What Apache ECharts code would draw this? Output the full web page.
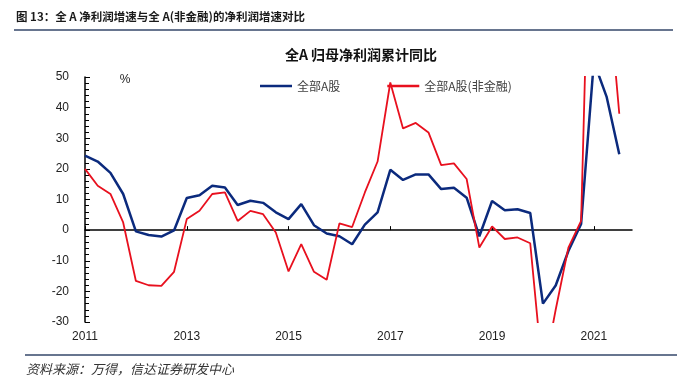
<!DOCTYPE html>
<html>
<head>
<meta charset="utf-8">
<script src="https://cdn.jsdelivr.net/npm/echarts@6/dist/echarts.min.js"></script>
<style>
html,body{margin:0;padding:0;background:#fff;}
#main{width:688px;height:388px;}
</style>
</head>
<body>
<div id="main"></div>
<script>
var categories = [
  "2011Q1","2011Q2","2011Q3","2011Q4","2012Q1","2012Q2","2012Q3","2012Q4",
  "2013Q1","2013Q2","2013Q3","2013Q4","2014Q1","2014Q2","2014Q3","2014Q4",
  "2015Q1","2015Q2","2015Q3","2015Q4","2016Q1","2016Q2","2016Q3","2016Q4",
  "2017Q1","2017Q2","2017Q3","2017Q4","2018Q1","2018Q2","2018Q3","2018Q4",
  "2019Q1","2019Q2","2019Q3","2019Q4","2020Q1","2020Q2","2020Q3","2020Q4",
  "2021Q1","2021Q2","2021Q3","2021Q4"
];
var allA = [
  24.3, 22.4, 18.7, 11.8, -0.4, -1.6, -2.1, -0.1,
  10.5, 11.4, 14.5, 13.9, 8.2, 9.6, 8.9, 5.8,
  3.6, 8.5, 1.6, -1.1, -2.0, -4.6, 1.8, 5.8,
  19.7, 16.4, 18.2, 18.2, 13.4, 13.8, 10.6, -2.0,
  9.5, 6.5, 6.8, 5.6, -24.0, -18.1, -6.8, 2.0,
  55, 43.6, 24.8, null
];
var allANonFin = [
  20.0, 14.5, 11.8, 2.5, -16.6, -18.0, -18.2, -13.6,
  3.6, 6.3, 11.8, 12.3, 3.0, 6.3, 5.2, -0.8,
  -13.5, -4.6, -13.6, -16.2, 2.2, 1.0, 12.3, 22.4,
  48.2, 33.2, 35.0, 31.9, 21.2, 21.8, 16.7, -5.7,
  1.2, -2.9, -2.4, -4.3, -48, -26, -5.7, 3.0,
  160, 85, 38, null
];
var yTicks = { min: -30, max: 50, interval: 10 };
var seriesNames = ["全部A股", "全部A股(非金融)"];

var chart = echarts.init(document.getElementById('main'), null, {renderer: 'canvas'});
var numFont = '"Liberation Sans", Arial, sans-serif';
var cjkFont = '"Noto Sans CJK SC", sans-serif';

chart.setOption({
  animation: false,
  backgroundColor: '#ffffff',
  grid: { left: 85, right: 56, top: 77, bottom: 66, containLabel: false },
  legend: {
    left: 255, top: 75,
    itemWidth: 32, itemHeight: 2.5, itemGap: 47,
    icon: 'rect',
    textStyle: { fontFamily: cjkFont, fontSize: 12, color: '#404040' },
    data: seriesNames
  },
  xAxis: [{
    type: 'category',
    data: categories,
    boundaryGap: false,
    axisLine: { show: true, onZero: true, lineStyle: { color: '#000', width: 1.5 } },
    axisTick: { show: true, interval: 7, inside: true, length: 4, lineStyle: { color: '#000', width: 1 } },
    axisLabel: { show: false },
    splitLine: { show: false }
  }, {
    type: 'category',
    data: categories,
    position: 'bottom',
    boundaryGap: false,
    axisLine: { show: false, onZero: false },
    axisTick: { show: false },
    axisLabel: {
      show: true, interval: 7, margin: 9,
      fontFamily: numFont, fontSize: 12, color: '#222',
      formatter: function (v) { return v.slice(0, 4); }
    },
    splitLine: { show: false }
  }],
  yAxis: {
    type: 'value',
    min: yTicks.min, max: yTicks.max, interval: yTicks.interval,
    axisLine: { show: true, lineStyle: { color: '#000', width: 1.5 } },
    axisTick: { show: true, inside: true, length: 5, lineStyle: { color: '#000', width: 1 } },
    minorTick: { show: true, splitNumber: 5, length: 4, lineStyle: { color: '#000', width: 1 } },
    axisLabel: { margin: 16, fontFamily: numFont, fontSize: 12, color: '#222' },
    splitLine: { show: false }
  },
  series: [{
    name: seriesNames[0],
    type: 'line',
    xAxisIndex: 0,
    data: allA,
    symbol: 'none',
    lineStyle: { color: '#0b2a7d', width: 2.5 },
    itemStyle: { color: '#0b2a7d' }
  }, {
    name: seriesNames[1],
    type: 'line',
    xAxisIndex: 0,
    data: allANonFin,
    symbol: 'none',
    lineStyle: { color: '#e8101e', width: 1.8 },
    itemStyle: { color: '#e8101e' }
  }],
  graphic: [
    { type: 'text', left: 16, top: 11,
      style: { text: '图 13：全 A 净利润增速与全 A(非金融)的净利润增速对比', fontFamily: cjkFont, fontSize: 11.5, fontWeight: 'bold', fill: '#1a1a1a' } },
    { type: 'line', shape: { x1: 14, y1: 30, x2: 673, y2: 30 }, style: { stroke: '#34476a', lineWidth: 1.5 } },
    { type: 'text', x: 361, y: 55,
      style: { text: '全A 归母净利润累计同比', fontFamily: cjkFont, fontSize: 14, fontWeight: 'bold', fill: '#111', align: 'center', verticalAlign: 'middle' } },
    { type: 'text', x: 125, y: 80,
      style: { text: '%', fontFamily: numFont, fontSize: 12, fill: '#222', align: 'center', verticalAlign: 'middle' } },
    { type: 'line', shape: { x1: 25, y1: 355, x2: 677, y2: 355 }, style: { stroke: '#34476a', lineWidth: 1.5 } },
    { type: 'text', x: 26, y: 369,
      style: { text: '资料来源：万得，信达证券研发中心', fontFamily: cjkFont, fontSize: 13, fontStyle: 'italic', fill: '#333', verticalAlign: 'middle' } }
  ]
});
</script>
</body>
</html>
